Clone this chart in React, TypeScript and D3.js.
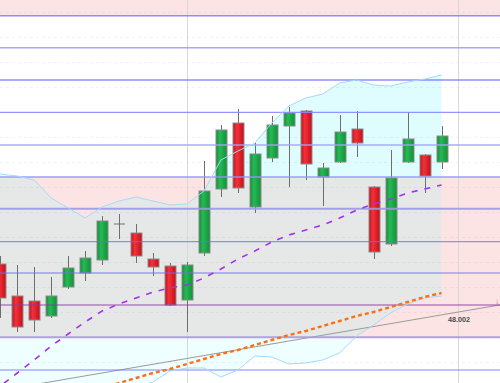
import React from "react";
import * as d3 from "d3";

const W = 500;
const H = 383;

// candles (index 0..26)
const opens = [48.043, 48.011, 48.006, 47.991, 48.020, 48.034, 48.047, 48.083, 48.074, 48.048, 48.041, 48.007, 48.054, 48.118, 48.184, 48.100, 48.149, 48.181, 48.196, 48.130, 48.145, 48.178, 48.120, 48.063, 48.145, 48.152, 48.145];
const highs = [48.051, 48.042, 48.040, 48.030, 48.051, 48.056, 48.091, 48.093, 48.083, 48.054, 48.044, 48.045, 48.146, 48.182, 48.198, 48.164, 48.191, 48.200, 48.197, 48.144, 48.192, 48.196, 48.121, 48.157, 48.195, 48.153, 48.181];
const lows = [47.989, 47.975, 47.975, 47.989, 48.018, 48.026, 48.042, 48.068, 48.044, 48.031, 48.001, 47.975, 48.051, 48.110, 48.114, 48.094, 48.145, 48.120, 48.127, 48.101, 48.144, 48.150, 48.048, 48.061, 48.144, 48.114, 48.138];
const closes = [48.009, 47.980, 47.987, 48.011, 48.039, 48.049, 48.086, 48.083, 48.051, 48.040, 48.002, 48.042, 48.116, 48.177, 48.119, 48.153, 48.182, 48.194, 48.143, 48.139, 48.175, 48.164, 48.055, 48.129, 48.168, 48.131, 48.171];

// Bollinger bands (index -1..26)
const bandStart = -1;
const upperBand = [48.135, 48.133, 48.131, 48.127, 48.109, 48.099, 48.089, 48.100, 48.106, 48.110, 48.106, 48.102, 48.103, 48.116, 48.147, 48.156, 48.164, 48.184, 48.201, 48.209, 48.213, 48.224, 48.227, 48.222, 48.221, 48.225, 48.228, 48.232];
const middleBand = [47.908, 47.921, 47.934, 47.947, 47.961, 47.973, 47.985, 47.996, 48.003, 48.009, 48.015, 48.019, 48.022, 48.029, 48.038, 48.048, 48.056, 48.065, 48.072, 48.077, 48.082, 48.089, 48.097, 48.103, 48.108, 48.114, 48.118, 48.122];
const lowerBand = [47.867, 47.875, 47.882, 47.889, 47.895, 47.901, 47.907, 47.912, 47.916, 47.920, 47.925, 47.936, 47.939, 47.939, 47.930, 47.937, 47.951, 47.950, 47.943, 47.944, 47.947, 47.954, 47.971, 47.982, 47.994, 48.003, 48.009, 48.011];

// slow moving average (index 6..26)
const slowStart = 6;
const slowMA = [47.919, 47.924, 47.929, 47.934, 47.938, 47.943, 47.948, 47.953, 47.957, 47.962, 47.967, 47.972, 47.976, 47.981, 47.986, 47.991, 47.995, 48.000, 48.005, 48.010, 48.014];

// trend line anchors
const trendIdx = [0, 30];
const trendPrice = [47.9166, 48.0037];
const trendLabel = "48.002";

// horizontal levels
const levelPrices = [48.2913, 48.2593, 48.227, 48.1947, 48.162, 48.13, 48.0983, 48.0653, 48.034, 48.002, 47.9697, 47.937];
const levelColors = ["#8a80ee", "#9c9cff", "#8282ff", "#8888ff", "#a2a2ff", "#9494ff", "#9a98ea", "#6a6aff", "#6a6aff", "#8a3aa4", "#a898e2", "#7676ff"];
const levelWidths = [1.6, 1.5, 1.3, 1.3, 1.5, 1.6, 2, 1, 1, 1, 2, 1];

// faint price grid
const gridPrices = [48.295, 48.27, 48.245, 48.22, 48.17, 48.145, 48.12, 48.095, 48.07, 48.045, 48.02, 47.995, 47.97, 47.945];

// zones
const topZone = [48.4, 48.2913];
const pinkZone = [48.13, 47.9697];

// session separators (index)
const separators = [11, 27];

export default function App() {
  const x = d3.scaleLinear().domain([0, 26]).range([0.3, 441.5]);
  const y = d3.scaleLinear().domain([48.307, 47.924]).range([0, H]);

  const bandIdx = upperBand.map((_, k) => k + bandStart);
  const band = d3
    .area<number>()
    .x((i) => x(i))
    .y0((i) => y(lowerBand[i - bandStart]))
    .y1((i) => y(upperBand[i - bandStart]))
    .curve(d3.curveLinear);
  const line = d3.line<[number, number]>().x((d) => x(d[0])).y((d) => y(d[1]));

  const upperPts = bandIdx.map((i) => [i, upperBand[i - bandStart]] as [number, number]);
  const lowerPts = bandIdx.map((i) => [i, lowerBand[i - bandStart]] as [number, number]);
  const midPts = bandIdx.map((i) => [i, middleBand[i - bandStart]] as [number, number]);
  const slowPts = slowMA.map((v, k) => [k + slowStart, v] as [number, number]);
  const trendPts = trendIdx.map((i, k) => [i, trendPrice[k]] as [number, number]);

  const yTop = y(topZone[1]);
  const yPinkTop = y(pinkZone[0]);
  const yPinkBot = y(pinkZone[1]);
  const bw = 11;
  const bandPath = band(bandIdx) || "";

  return (
    <svg
      width={W}
      height={H}
      style={{ position: "fixed", left: 0, top: 0, background: "#fff" }}
      fontFamily="Liberation Sans, Arial, sans-serif"
    >
      <defs>
        <linearGradient id="gGreen" x1="0" x2="1" y1="0" y2="0">
          <stop offset="0" stopColor="#0f8f34" />
          <stop offset="0.35" stopColor="#27b957" />
          <stop offset="1" stopColor="#109136" />
        </linearGradient>
        <linearGradient id="gRed" x1="0" x2="1" y1="0" y2="0">
          <stop offset="0" stopColor="#c8101a" />
          <stop offset="0.35" stopColor="#f2323a" />
          <stop offset="1" stopColor="#c40e18" />
        </linearGradient>
        <clipPath id="cWhite">
          <rect x={0} y={yTop} width={W} height={yPinkTop - yTop} />
        </clipPath>
        <clipPath id="cPink">
          <rect x={0} y={yPinkTop} width={W} height={yPinkBot - yPinkTop} />
        </clipPath>
        <clipPath id="cBottom">
          <rect x={0} y={yPinkBot} width={W} height={H - yPinkBot} />
        </clipPath>
      </defs>

      {/* zones */}
      <rect x={0} y={0} width={W} height={yTop} fill="#fde4e4" />
      <rect x={0} y={yPinkTop} width={W} height={yPinkBot - yPinkTop} fill="#fde4e4" />

      {/* band fill by zone */}
      <path d={bandPath} fill="#dffcfe" clipPath="url(#cWhite)" />
      <path d={bandPath} fill="#e6e8e8" clipPath="url(#cPink)" />
      <path d={bandPath} fill="#effefe" clipPath="url(#cBottom)" />

      {/* faint grid */}
      {gridPrices.map((p, k) => (
        <line
          key={"g" + k}
          x1={0}
          x2={W}
          y1={Math.round(y(p)) + 0.5}
          y2={Math.round(y(p)) + 0.5}
          stroke="#000"
          strokeOpacity={0.05}
          strokeDasharray="3,3"
        />
      ))}

      {/* separators */}
      {separators.map((i) => (
        <line
          key={"s" + i}
          x1={Math.round(x(i)) + 0.5}
          x2={Math.round(x(i)) + 0.5}
          y1={0}
          y2={H}
          stroke="#d8d8d8"
          strokeWidth={1}
        />
      ))}

      {/* trend line */}
      <path d={line(trendPts) || ""} fill="none" stroke="#9a9a9a" strokeWidth={1} />

      {/* candles */}
      {opens.map((o, i) => {
        const c = closes[i];
        const up = c >= o;
        const cx = Math.round(x(i));
        const yo = y(o);
        const yc = y(c);
        const top = Math.min(yo, yc);
        const h = Math.max(1, Math.abs(yo - yc));
        return (
          <g key={"c" + i}>
            <line x1={cx + 0.5} x2={cx + 0.5} y1={y(highs[i])} y2={y(lows[i])} stroke="#6e6e6e" strokeWidth={1} />
            {h > 1.5 ? (
              <rect
                x={cx - bw / 2 + 0.5}
                y={top}
                width={bw}
                height={h}
                fill={up ? "url(#gGreen)" : "url(#gRed)"}
                stroke="#8a8a8a"
                strokeWidth={1}
              />
            ) : (
              <line x1={cx - bw / 2 + 0.5} x2={cx + bw / 2 + 0.5} y1={top} y2={top} stroke="#6e6e6e" strokeWidth={1} />
            )}
          </g>
        );
      })}

      {/* level lines */}
      {levelPrices.map((p, k) => (
        <line
          key={"l" + k}
          x1={0}
          x2={W}
          y1={y(p)}
          y2={y(p)}
          stroke={levelColors[k]}
          strokeWidth={levelWidths[k]}
          strokeOpacity={0.9}
        />
      ))}

      {/* bands */}
      <path d={line(upperPts) || ""} fill="none" stroke="#a6daf6" strokeWidth={1} />
      <path d={line(lowerPts) || ""} fill="none" stroke="#a6daf6" strokeWidth={1} />
      <path d={line(midPts) || ""} fill="none" stroke="#a52ef0" strokeWidth={1.6} strokeDasharray="6,7" />
      <path d={line(slowPts) || ""} fill="none" stroke="#ff6e10" strokeWidth={2.4} strokeDasharray="4,3" />

      {/* label */}
      <text x={448} y={322} fontSize={7.2} fontWeight="bold" fill="#4a4a4a">
        {trendLabel}
      </text>
      <text x={495} y={304} fontSize={8} fill="#ec6a5a">
        ↓
      </text>
    </svg>
  );
}
